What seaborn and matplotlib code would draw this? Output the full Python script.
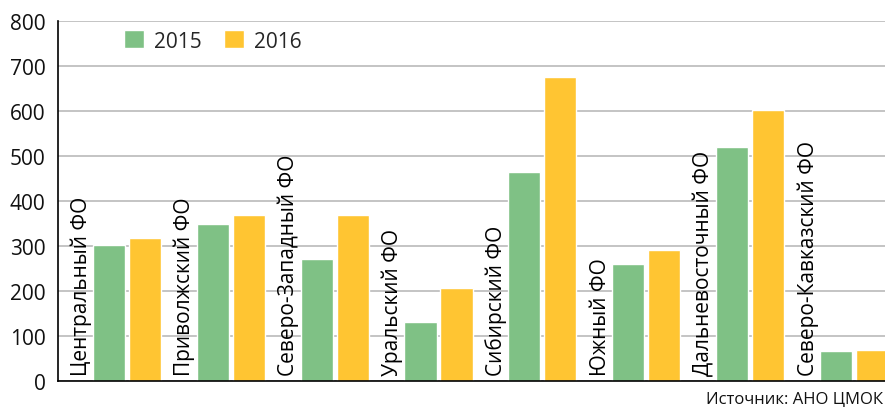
import matplotlib
matplotlib.use("Agg")
import matplotlib.pyplot as plt
import seaborn as sns
import pandas as pd

# Data
districts = ["Центральный ФО", "Приволжский ФО", "Северо-Западный ФО", "Уральский ФО",
             "Сибирский ФО", "Южный ФО", "Дальневосточный ФО", "Северо-Кавказский ФО"]
values_2015 = [302, 348, 270, 130, 464, 259, 519, 66]
values_2016 = [317, 368, 368, 206, 675, 290, 601, 69]
years = ["2015", "2016"]
y_ticks = [0, 100, 200, 300, 400, 500, 600, 700, 800]
source_text = "Источник: АНО ЦМОК"

colors = {"2015": "#7fc185", "2016": "#ffc532"}

sns.set_style("white")
plt.rcParams['font.family'] = ['Open Sans', 'DejaVu Sans']

df = pd.DataFrame({
    "district": districts * 2,
    "year": [years[0]] * len(districts) + [years[1]] * len(districts),
    "value": values_2015 + values_2016,
})

fig = plt.figure(figsize=(8.85, 4.10), dpi=100)
ax = fig.add_axes([58 / 885, 28.3 / 410, 831 / 885, 360 / 410])

sns.barplot(data=df, x="district", y="value", hue="year", order=districts,
            palette=colors, width=0.693, gap=0.11, saturation=1, ax=ax)

# category boundaries: group centre sits at 0.663 of each slot
offset = 0.663
ax.set_xlim(-offset, len(districts) - offset)
ax.set_ylim(0, 800)
ax.set_yticks(y_ticks)
ax.set_yticklabels([str(v) for v in y_ticks], fontsize=15, color="#111111")
ax.tick_params(axis="y", length=0, pad=9)

ax.set_xticks([i + 1 - offset for i in range(len(districts))])
ax.set_xticklabels([])
ax.tick_params(axis="x", direction="in", length=6, width=1, color="black")

ax.yaxis.grid(True, color="#bfbfbf", linewidth=1.3)
ax.set_axisbelow(True)
for side in ["top", "right"]:
    ax.spines[side].set_visible(False)
for side in ["left", "bottom"]:
    ax.spines[side].set_color("black")
    ax.spines[side].set_linewidth(1.2)
ax.set_xlabel("")
ax.set_ylabel("")

# rotated category labels inside each slot
for i, name in enumerate(districts):
    ax.text(i - offset + 0.22, 12, name, rotation=90, ha="center", va="bottom",
            fontsize=15, color="#000000")

ax.legend(loc="upper left", bbox_to_anchor=(0.057, 1.025), ncol=2, frameon=False,
          fontsize=15, handlelength=0.95, handleheight=0.95, columnspacing=1.05,
          handletextpad=0.5)

fig.text(883 / 885, 10 / 410, source_text, ha="right", va="center",
         fontsize=12, color="#111111")

fig.savefig("out.png", dpi=100)
